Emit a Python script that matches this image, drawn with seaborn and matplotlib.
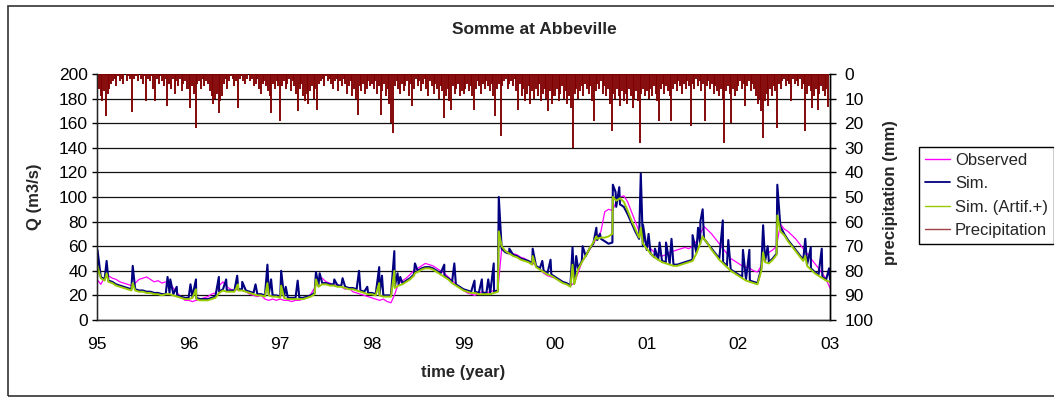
import numpy as np
import pandas as pd
import matplotlib
matplotlib.use("Agg")
import matplotlib.pyplot as plt
import seaborn as sns
from matplotlib.lines import Line2D
from matplotlib.patches import Rectangle

# ---------------- data ----------------
q_start_year = 1995
q_steps_per_year = 24  # half-monthly values

obs_q = [
    33, 29, 35, 36, 34, 33, 31, 30, 29, 28, 30, 33, 34, 35, 33, 31, 32, 30, 31, 29, 26, 22, 19, 16,
    16, 15, 16, 17, 18, 19, 21, 22, 28, 31, 27, 25, 24, 25, 24, 23, 21, 20, 19, 20, 17, 16, 17, 16,
    17, 16, 16, 15, 16, 16, 17, 18, 21, 26, 33, 34, 31, 30, 28, 29, 27, 25, 26, 23, 22, 21, 20, 19,
    18, 17, 16, 17, 15, 14, 21, 30, 32, 34, 37, 40, 42, 44, 46, 45, 44, 42, 40, 38, 35, 32, 29, 27,
    24, 22, 21, 20, 22, 23, 22, 23, 24, 24, 58, 56, 55, 54, 53, 51, 50, 48, 47, 44, 42, 38, 36, 35,
    34, 32, 31, 29, 28, 30, 38, 47, 52, 57, 62, 67, 72, 88, 90, 89, 96, 100, 101, 96, 88, 80, 72, 66,
    62, 58, 55, 53, 52, 53, 55, 56, 57, 58, 59, 58, 60, 64, 70, 76, 73, 70, 66, 62, 58, 54, 50, 48,
    46, 44, 43, 42, 40, 39, 44, 54, 55, 57, 60, 78, 74, 72, 69, 66, 62, 58, 54, 50, 46, 42, 38, 33,
    26,
]

sim_q = [
    34, 35, 33, 32, 31, 29, 28, 27, 26, 25, 25, 24, 24, 23, 23, 22, 22, 21, 21, 22, 21, 20, 19, 18,
    18, 19, 18, 17, 17, 17, 18, 19, 23, 25, 24, 24, 24, 25, 25, 24, 23, 22, 21, 21, 20, 21, 20, 20,
    19, 19, 18, 18, 18, 18, 18, 19, 20, 22, 28, 30, 30, 29, 29, 28, 28, 27, 26, 26, 25, 24, 23, 22,
    22, 21, 21, 20, 20, 20, 27, 29, 30, 32, 34, 37, 40, 42, 43, 43, 42, 40, 38, 36, 34, 31, 29, 27,
    25, 24, 23, 23, 22, 22, 22, 22, 23, 24, 58, 55, 54, 53, 52, 50, 49, 48, 46, 44, 42, 40, 38, 37,
    35, 33, 31, 30, 28, 30, 42, 48, 52, 58, 62, 65, 66, 64, 62, 63, 92, 94, 92, 86, 79, 72, 66, 60,
    57, 54, 51, 49, 48, 47, 46, 45, 45, 46, 47, 48, 49, 55, 62, 66, 62, 58, 54, 50, 47, 44, 41, 39,
    37, 35, 33, 32, 31, 30, 42, 48, 47, 50, 54, 76, 70, 65, 61, 57, 53, 49, 45, 42, 39, 37, 35, 33,
    33,
]

artif_q = [
    33, 34, 32, 31, 30, 28, 27, 26, 25, 24, 24, 23, 23, 22, 22, 21, 21, 20, 21, 21, 20, 19, 18, 17,
    17, 18, 17, 16, 16, 16, 17, 18, 22, 24, 23, 23, 23, 24, 24, 23, 22, 21, 20, 20, 19, 20, 19, 19,
    18, 18, 17, 17, 17, 17, 17, 18, 19, 21, 27, 29, 29, 28, 28, 27, 27, 26, 25, 25, 24, 23, 22, 21,
    21, 20, 20, 19, 19, 19, 26, 28, 29, 31, 33, 36, 39, 41, 42, 42, 41, 39, 37, 35, 33, 30, 28, 26,
    24, 23, 22, 22, 21, 21, 21, 21, 22, 23, 60, 56, 54, 52, 51, 49, 48, 47, 45, 43, 41, 39, 37, 36,
    34, 32, 30, 29, 27, 29, 41, 47, 52, 58, 63, 66, 67, 67, 68, 70, 97, 99, 96, 89, 81, 74, 67, 62,
    58, 54, 51, 49, 47, 46, 45, 44, 44, 45, 46, 47, 48, 54, 62, 66, 62, 57, 53, 49, 46, 43, 40, 38,
    36, 34, 32, 31, 30, 29, 40, 47, 46, 49, 53, 72, 69, 64, 60, 56, 52, 48, 44, 41, 38, 36, 34, 32,
    31,
]

# short flood peaks of the simulated series
sim_peak_year = [
    1995.005, 1995.105, 1995.39, 1995.77, 1995.80, 1995.87,
    1996.02, 1996.08, 1996.33, 1996.41, 1996.53, 1996.585, 1996.73, 1996.86, 1996.9,
    1997.01, 1997.06, 1997.19, 1997.39, 1997.43, 1997.59, 1997.68, 1997.86, 1997.95,
    1998.08, 1998.11, 1998.245, 1998.28, 1998.31, 1998.47, 1998.79, 1998.9,
    1999.12, 1999.2, 1999.27, 1999.33, 1999.385, 1999.5, 1999.755, 1999.86, 1999.95,
    2000.19, 2000.23, 2000.3, 2000.45, 2000.49, 2000.63, 2000.66, 2000.7, 2000.935, 2000.96,
    2001.02, 2001.09, 2001.14, 2001.21, 2001.27, 2001.5, 2001.56, 2001.585, 2001.61, 2001.83, 2001.89,
    2002.05, 2002.12, 2002.27, 2002.32, 2002.425, 2002.73, 2002.79, 2002.91, 2002.99,
]
sim_peak_q = [
    57, 48, 44, 35, 33, 27,
    29, 33, 35, 33, 36, 31, 29, 45, 33,
    40, 27, 32, 39, 38, 33, 34, 40, 27,
    43, 36, 56, 38, 35, 46, 45, 46,
    32, 33, 33, 46, 100, 58, 58, 48, 49,
    59, 52, 60, 75, 70, 110, 104, 108, 119, 77,
    70, 58, 63, 63, 66, 69, 75, 80, 90, 81, 65,
    57, 57, 77, 60, 110, 66, 59, 58, 42,
]

artif_peak_year = [1995.005, 1995.105, 1995.39, 1996.08, 1996.54, 1996.86, 1997.01, 1997.39,
                   1998.08, 1998.245, 1998.47, 1999.385, 1999.755, 2000.19, 2000.45, 2000.63,
                   2000.935, 2001.61, 2002.27, 2002.425, 2002.73]
artif_peak_q = [44, 38, 30, 25, 29, 30, 28, 33,
                30, 40, 38, 72, 52, 45, 68, 100,
                75, 68, 55, 85, 52]

p_steps_per_year = 52  # weekly precipitation (mm)
precip_1995 = [20, 6, 9, 11, 7, 17, 8, 6, 4, 3, 2, 5, 1, 3, 2, 4, 0, 3, 1, 2, 15.5, 2, 1, 3, 0, 2,
               4, 1, 11, 2, 3, 1, 6, 11, 2, 4, 1, 3, 5, 2, 13, 4, 6, 2, 8, 3, 5, 2, 7, 4, 3, 6]
precip_1996 = [6, 14, 5, 8, 22, 4, 3, 6, 2, 5, 3, 4, 7, 9, 12, 10, 8, 16, 11, 9, 4, 2, 6, 3, 1, 2,
               5, 3, 14, 2, 1, 3, 4, 2, 0, 3, 2, 5, 4, 2, 6, 8, 4, 3, 5, 7, 9, 16, 4, 6, 3, 5]
precip_1997 = [19, 5, 3, 6, 4, 2, 7, 3, 5, 8, 15, 6, 4, 9, 11, 8, 12, 7, 5, 10, 6, 14.5, 4, 3, 2, 5,
               1, 3, 2, 4, 6, 3, 2, 7, 3, 5, 2, 4, 8, 5, 3, 9, 6, 10, 16.5, 5, 7, 4, 8, 6, 3, 5]
precip_1998 = [4, 6, 3, 8, 5, 16.5, 7, 4, 9, 6, 12, 20, 24, 5, 3, 6, 8, 4, 7, 5, 3, 9, 4, 13, 6, 2,
               5, 3, 7, 4, 2, 6, 9, 3, 5, 8, 4, 6, 10, 5, 7, 18, 9, 6, 11, 14.5, 5, 8, 6, 4, 9, 7]
precip_1999 = [8, 6, 4, 7, 5, 9, 14.5, 6, 3, 5, 8, 4, 6, 3, 5, 7, 4, 9, 17, 6, 4, 25, 5, 3, 2, 6,
               4, 3, 5, 2, 7, 14.5, 4, 9, 6, 11, 8, 5, 12, 7, 10, 6, 9, 4, 11, 8, 6, 10, 15, 7, 12, 9]
precip_2000 = [9, 6, 11, 8, 5, 10, 7, 12, 9, 14, 30, 8, 6, 10, 7, 5, 9, 4, 6, 8, 5, 11, 19, 7, 4, 6,
               3, 8, 5, 9, 6, 12, 23, 8, 10, 6, 9, 13, 7, 11, 8, 12, 6, 9, 14, 10, 7, 11, 28, 8, 6, 9]
precip_2001 = [7, 10, 6, 9, 5, 8, 11, 19, 6, 4, 8, 5, 7, 9, 19, 6, 4, 7, 3, 5, 8, 4, 6, 3, 5, 21,
               4, 6, 2, 5, 3, 7, 4, 19, 5, 3, 6, 4, 8, 5, 7, 9, 6, 10, 28, 7, 5, 8, 20, 6, 9, 7]
precip_2002 = [5, 3, 6, 4, 13, 5, 3, 7, 4, 6, 9, 12, 10, 15, 26, 11, 8, 13, 6, 9, 5, 7, 22, 4, 6, 3,
               2, 5, 3, 4, 11, 2, 4, 3, 5, 2, 6, 4, 23, 8, 5, 7, 14, 9, 6, 14.5, 8, 5, 7, 9, 6, 13.5]

year_ticks = [1995, 1996, 1997, 1998, 1999, 2000, 2001, 2002, 2003]
year_labels = ["95", "96", "97", "98", "99", "00", "01", "02", "03"]

# ---------------- build tables ----------------
t_q = q_start_year + np.arange(len(obs_q)) / q_steps_per_year
df_obs = pd.DataFrame({"year": t_q, "Q": obs_q})
df_sim = pd.concat([pd.DataFrame({"year": t_q, "Q": sim_q}),
                    pd.DataFrame({"year": sim_peak_year, "Q": sim_peak_q})]).sort_values("year", kind="stable")
df_art = pd.concat([pd.DataFrame({"year": t_q, "Q": artif_q}),
                    pd.DataFrame({"year": artif_peak_year, "Q": artif_peak_q})]).sort_values("year", kind="stable")
precip = (precip_1995 + precip_1996 + precip_1997 + precip_1998 +
          precip_1999 + precip_2000 + precip_2001 + precip_2002)
t_p = q_start_year + np.arange(len(precip)) / p_steps_per_year
df_p = pd.DataFrame({"year": t_p, "P": precip})

# ---------------- style ----------------
sns.set_style("white")
plt.rcParams["font.family"] = ["Liberation Sans", "DejaVu Sans"]

C_OBS, C_SIM, C_ART, C_P = "#FF00FF", "#000080", "#99CC00", "#800000"
W, H = 1054, 397
fig = plt.figure(figsize=(W / 100, H / 100), dpi=100)
ax = fig.add_axes([97 / W, 1 - 320 / H, (830 - 97) / W, (320 - 74) / H])

sns.lineplot(data=df_obs, x="year", y="Q", ax=ax, color=C_OBS, lw=0.9, estimator=None, errorbar=None, sort=False)
sns.lineplot(data=df_sim, x="year", y="Q", ax=ax, color=C_SIM, lw=1.5, estimator=None, errorbar=None, sort=False)
sns.lineplot(data=df_art, x="year", y="Q", ax=ax, color=C_ART, lw=1.4, estimator=None, errorbar=None, sort=False)

ax.set_xlim(1995, 2003)
ax.set_ylim(0, 200)
ax.set_yticks(np.arange(0, 201, 20))
ax.set_xticks(year_ticks)
ax.set_xticklabels(year_labels)
ax.set_xlabel("")
ax.set_ylabel("")
ax.grid(axis="y", color="#111111", lw=0.9)
ax.grid(axis="x", visible=False)
ax.set_axisbelow(True)
ax.spines["top"].set_visible(False)
for s in ["left", "bottom", "right"]:
    ax.spines[s].set_color("black")
    ax.spines[s].set_linewidth(1.0)
ax.tick_params(axis="y", direction="out", length=3.6, width=1, labelsize=12.5, pad=3, colors="black")
ax.tick_params(axis="x", direction="out", length=4.5, width=1, labelsize=12.5, pad=8, colors="black")

# precipitation: daily-style stems hanging from the top (inverted right axis)
ax2 = ax.twinx()
ax2.vlines(df_p["year"], 0, df_p["P"], color=C_P, lw=1.35)
ax2.set_ylim(100, 0)
ax2.set_yticks(np.arange(0, 101, 10))
ax2.set_ylabel("")
ax2.set_xlim(1995, 2003)
ax2.spines["top"].set_visible(False)
ax2.spines["right"].set_color("black")
ax2.spines["right"].set_linewidth(1.0)
ax2.tick_params(axis="y", direction="out", length=4.3, width=1, labelsize=12.5, pad=6, colors="black")
ax2.grid(False)

fig.text(534 / W, 1 - 30 / H, "Somme at Abbeville", ha="center", va="center", fontsize=12.5, fontweight="bold")
fig.text(34 / W, 1 - 197 / H, "Q (m3/s)", ha="center", va="center", rotation=90, fontsize=12, fontweight="bold")
fig.text(891 / W, 1 - 193 / H, "precipitation (mm)", ha="center", va="center", rotation=90, fontsize=12, fontweight="bold")
fig.text(463 / W, 1 - 373 / H, "time (year)", ha="center", va="center", fontsize=12, fontweight="bold")

handles = [Line2D([], [], color=C_OBS, lw=1.0), Line2D([], [], color=C_SIM, lw=1.3),
           Line2D([], [], color=C_ART, lw=1.0), Line2D([], [], color="#A04040", lw=1.0)]
labels = ["Observed", "Sim.", "Sim. (Artif.+)", "Precipitation"]
leg = fig.legend(handles, labels, loc="upper left", bbox_to_anchor=(919 / W, 1 - 147 / H),
                 frameon=True, fancybox=False, edgecolor="black", framealpha=1, fontsize=12,
                 handlelength=1.5, handletextpad=0.3, borderpad=0.35, labelspacing=0.5, borderaxespad=0)
leg.get_frame().set_linewidth(1.0)

fig.patches.append(Rectangle((8 / W, 1 - 396 / H), 1.2, (396 - 6) / H, transform=fig.transFigure,
                             fill=False, edgecolor="#333333", lw=1.2))

fig.savefig("out.png", dpi=100)
